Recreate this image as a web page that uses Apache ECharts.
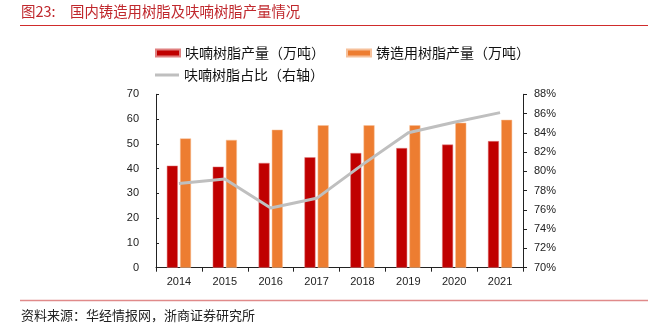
<!DOCTYPE html>
<html><head><meta charset="utf-8">
<script src="https://cdn.jsdelivr.net/npm/echarts@6/dist/echarts.min.js"></script>
<style>html,body{margin:0;padding:0;background:#fff}#c{width:649px;height:327px}</style>
</head><body><div id="c"></div>
<script>
var categories = ['2014','2015','2016','2017','2018','2019','2020','2021'];
var furanResin = [41.2, 40.8, 42.3, 44.6, 46.3, 48.3, 49.7, 51.1];
var castingResin = [52.2, 51.6, 55.7, 57.5, 57.5, 57.5, 58.5, 59.7];
var furanShare = [78.75, 79.2, 76.2, 77.2, 80.7, 84.0, 85.1, 86.1];
var titlePrefix = '图23:';
var titleText = '国内铸造用树脂及呋喃树脂产量情况';
var sourceText = '资料来源：华经情报网，浙商证券研究所';
var names = ['呋喃树脂产量（万吨）', '铸造用树脂产量（万吨）', '呋喃树脂占比（右轴）'];

var cjk = '"Noto Sans CJK SC", sans-serif';
var num = '"Liberation Sans", Arial, sans-serif';
var chart = echarts.init(document.getElementById('c'));
chart.setOption({
  animation: false,
  grid: {left: 156, right: 126, top: 94.3, bottom: 59.3},
  legend: [
    {left: 150, top: 41, itemWidth: 24, itemHeight: 7, itemGap: 21,
     textStyle: {fontFamily: cjk, fontSize: 14, color: '#111'},
     data: [{name: names[0], icon: 'rect'}, {name: names[1], icon: 'rect'}]},
    {left: 150, top: 63, itemWidth: 24, itemHeight: 3,
     textStyle: {fontFamily: cjk, fontSize: 14, color: '#111'},
     data: [{name: names[2], icon: 'rect'}]}
  ],
  xAxis: {
    type: 'category', data: categories,
    axisLine: {lineStyle: {color: '#222', width: 1}},
    axisTick: {show: true, length: 4, inside: false, lineStyle: {color: '#222'}},
    axisLabel: {fontFamily: num, fontSize: 11, color: '#222', margin: 9}
  },
  yAxis: [
    {type: 'value', min: 0, max: 70, interval: 10,
     axisLine: {show: true, lineStyle: {color: '#222'}},
     axisTick: {show: true, inside: true, length: 3, lineStyle: {color: '#222'}},
     splitLine: {show: false},
     axisLabel: {fontFamily: num, fontSize: 11, color: '#222', margin: 17}},
    {type: 'value', min: 70, max: 88, interval: 2, position: 'right',
     axisLine: {show: true, lineStyle: {color: '#222'}},
     axisTick: {show: true, inside: false, length: 4, lineStyle: {color: '#222'}},
     splitLine: {show: false},
     axisLabel: {fontFamily: num, fontSize: 11, color: '#222', margin: 11, formatter: '{value}%'}}
  ],
  series: [
    {name: names[0], type: 'bar', data: furanResin, barWidth: 11, barGap: '20%',
     itemStyle: {color: '#C00000', borderColor: '#E08080', borderWidth: 0.5}},
    {name: names[1], type: 'bar', data: castingResin, barWidth: 11,
     itemStyle: {color: '#ED7D31', borderColor: '#F6C09A', borderWidth: 0.5}},
    {name: names[2], type: 'line', yAxisIndex: 1, data: furanShare, symbol: 'none',
     lineStyle: {color: '#BFBFBF', width: 3}, itemStyle: {color: '#BFBFBF'}}
  ],
  graphic: [
    {type: 'text', left: 21, top: 4, style: {text: titlePrefix, fontFamily: cjk, fontSize: 14.5, fill: '#C0282D'}},
    {type: 'text', left: 70, top: 4, style: {text: titleText, fontFamily: cjk, fontSize: 14.4, fill: '#C0282D'}},
    {type: 'line', shape: {x1: 20, y1: 25.5, x2: 648, y2: 25.5}, style: {stroke: '#D02C2C', lineWidth: 1.2}},
    {type: 'line', shape: {x1: 20, y1: 300.5, x2: 648, y2: 300.5}, style: {stroke: '#E08A8A', lineWidth: 1.5}},
    {type: 'text', left: 21, top: 309, style: {text: sourceText, fontFamily: cjk, fontSize: 13, fill: '#222'}}
  ]
});
</script>
</body></html>
